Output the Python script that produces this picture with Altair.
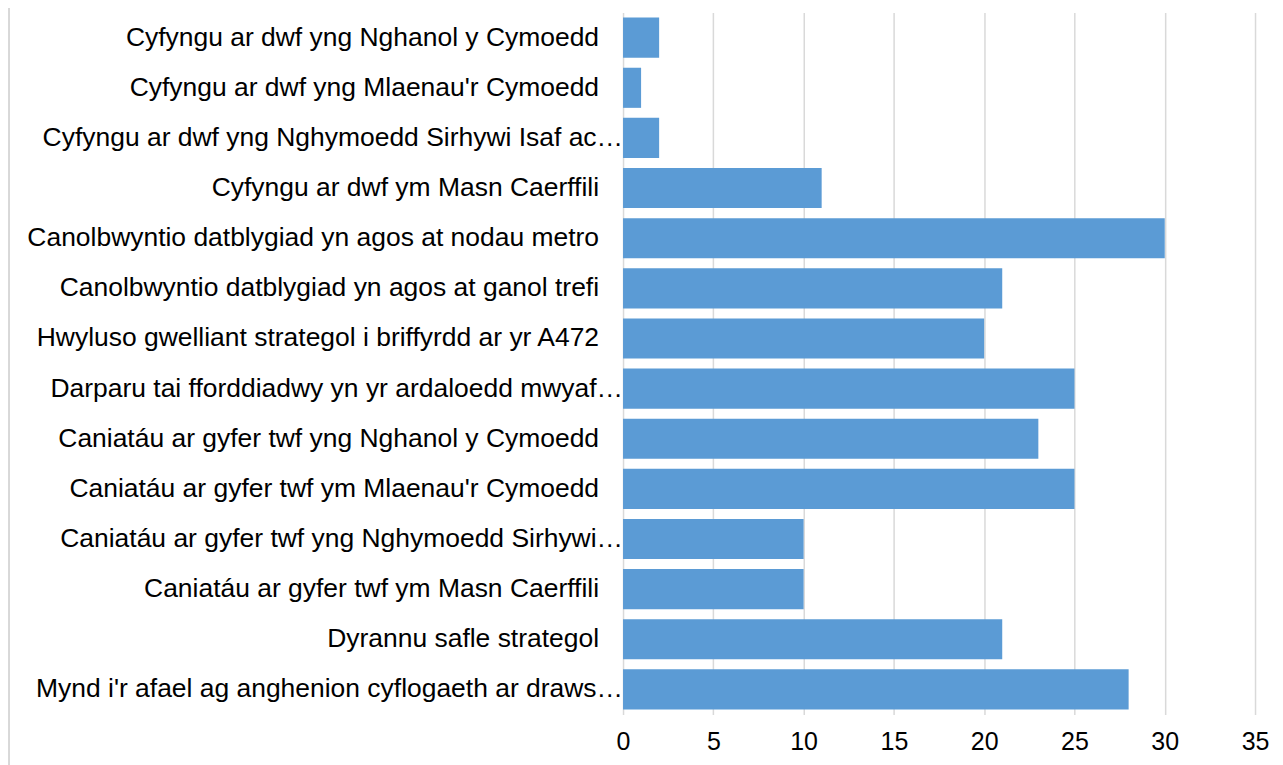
import altair as alt
import pandas as pd

categories = [
    "Cyfyngu ar dwf yng Nghanol y Cymoedd",
    "Cyfyngu ar dwf yng Mlaenau'r Cymoedd",
    "Cyfyngu ar dwf yng Nghymoedd Sirhywi Isaf ac…",
    "Cyfyngu ar dwf ym Masn Caerffili",
    "Canolbwyntio datblygiad yn agos at nodau metro",
    "Canolbwyntio datblygiad yn agos at ganol trefi",
    "Hwyluso gwelliant strategol i briffyrdd ar yr A472",
    "Darparu tai fforddiadwy yn yr ardaloedd mwyaf…",
    "Caniatáu ar gyfer twf yng Nghanol y Cymoedd",
    "Caniatáu ar gyfer twf ym Mlaenau'r Cymoedd",
    "Caniatáu ar gyfer twf yng Nghymoedd Sirhywi…",
    "Caniatáu ar gyfer twf ym Masn Caerffili",
    "Dyrannu safle strategol",
    "Mynd i'r afael ag anghenion cyflogaeth ar draws…",
]
values = [2, 1, 2, 11, 30, 21, 20, 25, 23, 25, 10, 10, 21, 28]
x_ticks = [0, 5, 10, 15, 20, 25, 30, 35]

df = pd.DataFrame({"category": categories, "value": values})

FONT = "Liberation Sans"

y_enc = alt.Y(
    "category:N",
    sort=categories,
    scale=alt.Scale(paddingInner=0.2, paddingOuter=0.1),
    axis=alt.Axis(title=None, domain=False, ticks=False, labels=False),
)

bars = alt.Chart(df).mark_bar(color="#5B9BD5").encode(
    x=alt.X(
        "value:Q",
        scale=alt.Scale(domain=[0, 35], nice=False),
        axis=alt.Axis(
            values=x_ticks,
            title=None,
            domain=False,
            ticks=False,
            grid=True,
            gridColor="#d9d9d9",
            gridWidth=1.5,
            labelFontSize=25,
            labelColor="#000000",
            labelFont=FONT,
            labelPadding=15,
            labelFlush=False,
            labelOverlap=False,
        ),
    ),
    y=y_enc,
)

text_base = alt.Chart(df).mark_text(
    align="right", baseline="middle", fontSize=26.5, font=FONT, color="#000000"
)

labels_full = text_base.transform_filter(
    "indexof(datum.category, '…') < 0"
).encode(y=y_enc, x=alt.value(-24), text="category:N")

labels_cut = text_base.transform_filter(
    "indexof(datum.category, '…') >= 0"
).encode(y=y_enc, x=alt.value(0), text="category:N")

border = alt.Chart(df).mark_rule(color="#d9d9d9", strokeWidth=1.5).encode(
    x=alt.value(-615), y=alt.value(-14), y2=alt.value(760)
)

chart = (
    alt.layer(border, bars, labels_full, labels_cut)
    .properties(
        width=633,
        height=703,
        autosize=alt.AutoSizeParams(type="none"),
        padding={"left": 616, "top": 4, "right": 20, "bottom": 50},
    )
    .configure_view(stroke=None)
)

chart.save("out.html", embed_options={"renderer": "svg", "actions": False})
